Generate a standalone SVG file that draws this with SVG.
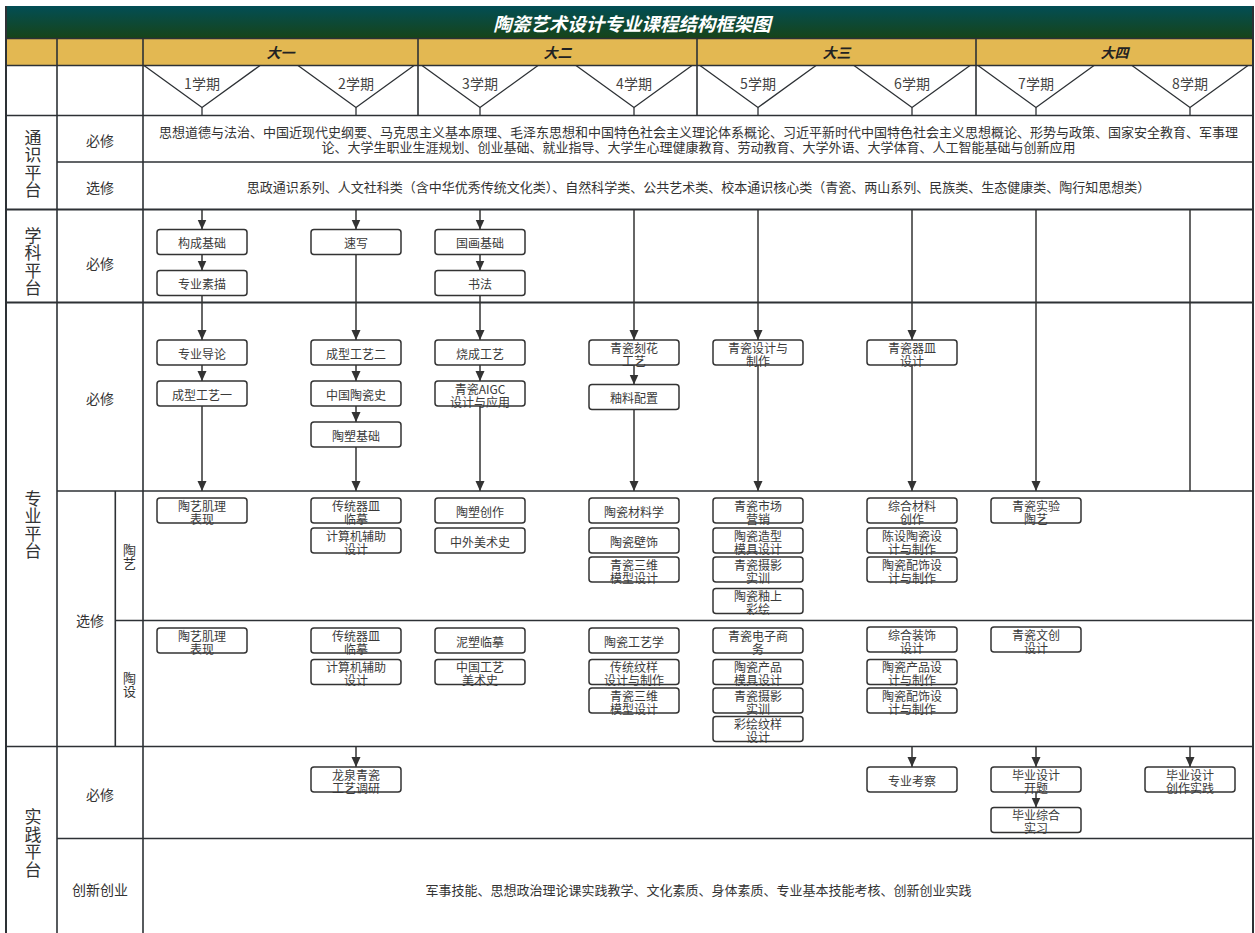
<svg xmlns="http://www.w3.org/2000/svg" width="1255" height="933" viewBox="0 0 1255 933">
<style>
text{font-family:"Noto Sans CJK SC","Noto Sans",sans-serif;fill:#333;text-anchor:middle;dominant-baseline:central}
.grid{stroke:#2d3135;stroke-width:1.6;fill:none}
.tri{stroke:#2d3135;stroke-width:1.3;fill:none}
.box{fill:#fff;stroke:#333;stroke-width:1.5}
.bt{font-size:12px;fill:#3a3a3a}
.sem{font-size:14px;fill:#444}
.yr{font-size:14px;font-weight:bold;font-style:italic;fill:#222}
.lab{font-size:14px;fill:#333}
.big{font-size:17px;fill:#333;writing-mode:vertical-rl;letter-spacing:0.5px}
.sub{font-size:13px;fill:#333;writing-mode:vertical-rl}
.desc{font-size:13px;fill:#333}
.title{font-size:18.5px;font-weight:bold;font-style:italic;fill:#fff}
.conn line{stroke:#333;stroke-width:1.5}
</style>
<defs>
<linearGradient id="tg" x1="0" y1="0" x2="0" y2="1">
<stop offset="0" stop-color="#024e55"/>
<stop offset="1" stop-color="#174418"/>
</linearGradient>
<marker id="arr" viewBox="0 0 10 10" refX="10" refY="5" markerWidth="10" markerHeight="10" markerUnits="userSpaceOnUse" orient="auto">
<path d="M0,0.5 L10,5 L0,9.5 z" fill="#333"/>
</marker>
</defs>
<rect x="0" y="0" width="1255" height="933" fill="#fff"/>
<g id="table">
<rect x="6" y="6" width="1247" height="32.5" fill="url(#tg)"/>
<rect x="6" y="38.5" width="1247" height="27" fill="#e3b852"/>
<g class="grid">
<line x1="6" y1="38.5" x2="1253" y2="38.5"/>
<line x1="6" y1="65.5" x2="1253" y2="65.5"/>
<line x1="6" y1="115.5" x2="1253" y2="115.5"/>
<line x1="57" y1="162" x2="1253" y2="162"/>
<line x1="6" y1="209.5" x2="1253" y2="209.5" stroke-width="2"/>
<line x1="6" y1="302.5" x2="1253" y2="302.5" stroke-width="2"/>
<line x1="57" y1="491" x2="1253" y2="491"/>
<line x1="115.3" y1="620.5" x2="1253" y2="620.5"/>
<line x1="6" y1="746.5" x2="1253" y2="746.5"/>
<line x1="57" y1="838.5" x2="1253" y2="838.5"/>
<line x1="6" y1="6" x2="6" y2="933" stroke-width="2"/>
<line x1="57" y1="38.5" x2="57" y2="933"/>
<line x1="143" y1="38.5" x2="143" y2="933"/>
<line x1="115.3" y1="491" x2="115.3" y2="746.5"/>
<line x1="418" y1="38.5" x2="418" y2="115.5"/>
<line x1="697" y1="38.5" x2="697" y2="115.5"/>
<line x1="976" y1="38.5" x2="976" y2="115.5"/>
<line x1="1253" y1="6" x2="1253" y2="933" stroke-width="2"/>
</g>
<g class="tri">
<polyline points="144,65.5 202,107.5 260,65.5"/><line x1="202" y1="107.5" x2="202" y2="115.5"/>
<polyline points="298,65.5 356,107.5 414,65.5"/><line x1="356" y1="107.5" x2="356" y2="115.5"/>
<polyline points="422,65.5 480,107.5 538,65.5"/><line x1="480" y1="107.5" x2="480" y2="115.5"/>
<polyline points="576,65.5 634,107.5 692,65.5"/><line x1="634" y1="107.5" x2="634" y2="115.5"/>
<polyline points="700,65.5 758,107.5 816,65.5"/><line x1="758" y1="107.5" x2="758" y2="115.5"/>
<polyline points="854,65.5 912,107.5 970,65.5"/><line x1="912" y1="107.5" x2="912" y2="115.5"/>
<polyline points="978,65.5 1036,107.5 1094,65.5"/><line x1="1036" y1="107.5" x2="1036" y2="115.5"/>
<polyline points="1132,65.5 1190,107.5 1248,65.5"/><line x1="1190" y1="107.5" x2="1190" y2="115.5"/>
</g>
</g>
<g id="labels">
<text class="title" x="632" y="22.5">陶瓷艺术设计专业课程结构框架图</text>
<text class="yr" x="280.5" y="52">大一</text>
<text class="yr" x="557.5" y="52">大二</text>
<text class="yr" x="836.5" y="52">大三</text>
<text class="yr" x="1114.5" y="52">大四</text>
<text class="sem" x="202" y="83">1学期</text>
<text class="sem" x="356" y="83">2学期</text>
<text class="sem" x="480" y="83">3学期</text>
<text class="sem" x="634" y="83">4学期</text>
<text class="sem" x="758" y="83">5学期</text>
<text class="sem" x="912" y="83">6学期</text>
<text class="sem" x="1036" y="83">7学期</text>
<text class="sem" x="1190" y="83">8学期</text>
<text class="big" x="33" y="164">通识平台</text>
<text class="big" x="33" y="262">学科平台</text>
<text class="big" x="33" y="525">专业平台</text>
<text class="big" x="33" y="843.5">实践平台</text>
<text class="lab" x="100" y="140">必修</text>
<text class="lab" x="100" y="187">选修</text>
<text class="lab" x="100" y="263">必修</text>
<text class="lab" x="100" y="398">必修</text>
<text class="lab" x="90" y="620">选修</text>
<text class="sub" x="129.4" y="556.5">陶艺</text>
<text class="sub" x="129.4" y="684.5">陶设</text>
<text class="lab" x="100" y="794">必修</text>
<text class="lab" x="100" y="889">创新创业</text>
<text class="desc" x="698.5" y="131">思想道德与法治、中国近现代史纲要、马克思主义基本原理、毛泽东思想和中国特色社会主义理论体系概论、习近平新时代中国特色社会主义思想概论、形势与政策、国家安全教育、军事理<tspan x="698.5" dy="15">论、大学生职业生涯规划、创业基础、就业指导、大学生心理健康教育、劳动教育、大学外语、大学体育、人工智能基础与创新应用</tspan></text>
<text class="desc" x="698.5" y="186.5">思政通识系列、人文社科类（含中华优秀传统文化类）、自然科学类、公共艺术类、校本通识核心类（青瓷、两山系列、民族类、生态健康类、陶行知思想类）</text>
<text class="desc" x="698.5" y="889">军事技能、思想政治理论课实践教学、文化素质、身体素质、专业基本技能考核、创新创业实践</text>
</g>
<g class="conn" id="connectors">
<line x1="202" y1="210" x2="202" y2="229.5" marker-end="url(#arr)"/>
<line x1="202" y1="254.5" x2="202" y2="270.5" marker-end="url(#arr)"/>
<line x1="202" y1="295.5" x2="202" y2="340" marker-end="url(#arr)"/>
<line x1="202" y1="365" x2="202" y2="381" marker-end="url(#arr)"/>
<line x1="202" y1="406" x2="202" y2="491" marker-end="url(#arr)"/>
<line x1="356" y1="210" x2="356" y2="229.5" marker-end="url(#arr)"/>
<line x1="356" y1="254.5" x2="356" y2="340" marker-end="url(#arr)"/>
<line x1="356" y1="365" x2="356" y2="381" marker-end="url(#arr)"/>
<line x1="356" y1="406" x2="356" y2="422" marker-end="url(#arr)"/>
<line x1="356" y1="447" x2="356" y2="491" marker-end="url(#arr)"/>
<line x1="480" y1="210" x2="480" y2="229.5" marker-end="url(#arr)"/>
<line x1="480" y1="254.5" x2="480" y2="270.5" marker-end="url(#arr)"/>
<line x1="480" y1="295.5" x2="480" y2="340" marker-end="url(#arr)"/>
<line x1="480" y1="365" x2="480" y2="381" marker-end="url(#arr)"/>
<line x1="480" y1="406" x2="480" y2="491" marker-end="url(#arr)"/>
<line x1="634" y1="210" x2="634" y2="340" marker-end="url(#arr)"/>
<line x1="634" y1="365" x2="634" y2="384.5" marker-end="url(#arr)"/>
<line x1="634" y1="409.5" x2="634" y2="491" marker-end="url(#arr)"/>
<line x1="758" y1="210" x2="758" y2="340" marker-end="url(#arr)"/>
<line x1="758" y1="365" x2="758" y2="491" marker-end="url(#arr)"/>
<line x1="912" y1="210" x2="912" y2="340" marker-end="url(#arr)"/>
<line x1="912" y1="365" x2="912" y2="491" marker-end="url(#arr)"/>
<line x1="1036" y1="210" x2="1036" y2="491" marker-end="url(#arr)"/>
<line x1="1190" y1="210" x2="1190" y2="491"/>
<line x1="356" y1="746.5" x2="356" y2="767" marker-end="url(#arr)"/>
<line x1="912" y1="746.5" x2="912" y2="767" marker-end="url(#arr)"/>
<line x1="1036" y1="746.5" x2="1036" y2="767" marker-end="url(#arr)"/>
<line x1="1036" y1="792" x2="1036" y2="807.5" marker-end="url(#arr)"/>
<line x1="1190" y1="746.5" x2="1190" y2="767" marker-end="url(#arr)"/>
</g>
<g id="nodes">
<g id="n-gcjc"><rect class="box" x="157" y="229.5" width="90" height="25" rx="3"/><text class="bt" x="202" y="242.5">构成基础</text></g>
<g id="n-zysm"><rect class="box" x="157" y="270.5" width="90" height="25" rx="3"/><text class="bt" x="202" y="283.5">专业素描</text></g>
<g id="n-sx"><rect class="box" x="311" y="229.5" width="90" height="25" rx="3"/><text class="bt" x="356" y="242.5">速写</text></g>
<g id="n-ghjc"><rect class="box" x="435" y="229.5" width="90" height="25" rx="3"/><text class="bt" x="480" y="242.5">国画基础</text></g>
<g id="n-sf"><rect class="box" x="435" y="270.5" width="90" height="25" rx="3"/><text class="bt" x="480" y="283.5">书法</text></g>
<g id="n-zydl"><rect class="box" x="157" y="340" width="90" height="25" rx="3"/><text class="bt" x="202" y="353">专业导论</text></g>
<g id="n-cxgy1"><rect class="box" x="157" y="381" width="90" height="25" rx="3"/><text class="bt" x="202" y="394">成型工艺一</text></g>
<g id="n-cxgy2"><rect class="box" x="311" y="340" width="90" height="25" rx="3"/><text class="bt" x="356" y="353">成型工艺二</text></g>
<g id="n-zgtcs"><rect class="box" x="311" y="381" width="90" height="25" rx="3"/><text class="bt" x="356" y="394">中国陶瓷史</text></g>
<g id="n-tsjc"><rect class="box" x="311" y="422" width="90" height="25" rx="3"/><text class="bt" x="356" y="435">陶塑基础</text></g>
<g id="n-scgy"><rect class="box" x="435" y="340" width="90" height="25" rx="3"/><text class="bt" x="480" y="353">烧成工艺</text></g>
<g id="n-aigc"><rect class="box" x="435" y="381" width="90" height="25" rx="3"/><text class="bt" x="480" y="388">青瓷AIGC<tspan x="480" dy="12.5">设计与应用</tspan></text></g>
<g id="n-khgy"><rect class="box" x="589" y="340" width="90" height="25" rx="3"/><text class="bt" x="634" y="347">青瓷刻花<tspan x="634" dy="12.5">工艺</tspan></text></g>
<g id="n-ylpz"><rect class="box" x="589" y="384.5" width="90" height="25" rx="3"/><text class="bt" x="634" y="397.5">釉料配置</text></g>
<g id="n-qcsj"><rect class="box" x="713" y="340" width="90" height="25" rx="3"/><text class="bt" x="758" y="347">青瓷设计与<tspan x="758" dy="12.5">制作</tspan></text></g>
<g id="n-qcqm"><rect class="box" x="867" y="340" width="90" height="25" rx="3"/><text class="bt" x="912" y="347">青瓷器皿<tspan x="912" dy="12.5">设计</tspan></text></g>

<g id="ty-1"><rect class="box" x="157" y="498" width="90" height="25" rx="3"/><text class="bt" x="202" y="505">陶艺肌理<tspan x="202" dy="12.5">表现</tspan></text></g>
<g id="ty-2"><rect class="box" x="311" y="498" width="90" height="25" rx="3"/><text class="bt" x="356" y="505">传统器皿<tspan x="356" dy="12.5">临摹</tspan></text></g>
<g id="ty-3"><rect class="box" x="311" y="528" width="90" height="25" rx="3"/><text class="bt" x="356" y="535">计算机辅助<tspan x="356" dy="12.5">设计</tspan></text></g>
<g id="ty-4"><rect class="box" x="435" y="498" width="90" height="25" rx="3"/><text class="bt" x="480" y="511">陶塑创作</text></g>
<g id="ty-5"><rect class="box" x="435" y="528" width="90" height="25" rx="3"/><text class="bt" x="480" y="541">中外美术史</text></g>
<g id="ty-6"><rect class="box" x="589" y="498" width="90" height="25" rx="3"/><text class="bt" x="634" y="511">陶瓷材料学</text></g>
<g id="ty-7"><rect class="box" x="589" y="528" width="90" height="25" rx="3"/><text class="bt" x="634" y="541">陶瓷壁饰</text></g>
<g id="ty-8"><rect class="box" x="589" y="557" width="90" height="25" rx="3"/><text class="bt" x="634" y="564">青瓷三维<tspan x="634" dy="12.5">模型设计</tspan></text></g>
<g id="ty-9"><rect class="box" x="713" y="498" width="90" height="25" rx="3"/><text class="bt" x="758" y="505">青瓷市场<tspan x="758" dy="12.5">营销</tspan></text></g>
<g id="ty-10"><rect class="box" x="713" y="528" width="90" height="25" rx="3"/><text class="bt" x="758" y="535">陶瓷造型<tspan x="758" dy="12.5">模具设计</tspan></text></g>
<g id="ty-11"><rect class="box" x="713" y="557" width="90" height="25" rx="3"/><text class="bt" x="758" y="564">青瓷摄影<tspan x="758" dy="12.5">实训</tspan></text></g>
<g id="ty-12"><rect class="box" x="713" y="588.5" width="90" height="25" rx="3"/><text class="bt" x="758" y="595.5">陶瓷釉上<tspan x="758" dy="12.5">彩绘</tspan></text></g>
<g id="ty-13"><rect class="box" x="867" y="498" width="90" height="25" rx="3"/><text class="bt" x="912" y="505">综合材料<tspan x="912" dy="12.5">创作</tspan></text></g>
<g id="ty-14"><rect class="box" x="867" y="528" width="90" height="25" rx="3"/><text class="bt" x="912" y="535">陈设陶瓷设<tspan x="912" dy="12.5">计与制作</tspan></text></g>
<g id="ty-15"><rect class="box" x="867" y="557" width="90" height="25" rx="3"/><text class="bt" x="912" y="564">陶瓷配饰设<tspan x="912" dy="12.5">计与制作</tspan></text></g>
<g id="ty-16"><rect class="box" x="991" y="498" width="90" height="25" rx="3"/><text class="bt" x="1036" y="505">青瓷实验<tspan x="1036" dy="12.5">陶艺</tspan></text></g>

<g id="ts-1"><rect class="box" x="157" y="628" width="90" height="25" rx="3"/><text class="bt" x="202" y="635">陶艺肌理<tspan x="202" dy="12.5">表现</tspan></text></g>
<g id="ts-2"><rect class="box" x="311" y="628" width="90" height="25" rx="3"/><text class="bt" x="356" y="635">传统器皿<tspan x="356" dy="12.5">临摹</tspan></text></g>
<g id="ts-3"><rect class="box" x="311" y="659.5" width="90" height="25" rx="3"/><text class="bt" x="356" y="666.5">计算机辅助<tspan x="356" dy="12.5">设计</tspan></text></g>
<g id="ts-4"><rect class="box" x="435" y="628" width="90" height="25" rx="3"/><text class="bt" x="480" y="641">泥塑临摹</text></g>
<g id="ts-5"><rect class="box" x="435" y="659.5" width="90" height="25" rx="3"/><text class="bt" x="480" y="666.5">中国工艺<tspan x="480" dy="12.5">美术史</tspan></text></g>
<g id="ts-6"><rect class="box" x="589" y="628" width="90" height="25" rx="3"/><text class="bt" x="634" y="641">陶瓷工艺学</text></g>
<g id="ts-7"><rect class="box" x="589" y="659.5" width="90" height="25" rx="3"/><text class="bt" x="634" y="666.5">传统纹样<tspan x="634" dy="12.5">设计与制作</tspan></text></g>
<g id="ts-8"><rect class="box" x="589" y="688" width="90" height="25" rx="3"/><text class="bt" x="634" y="695">青瓷三维<tspan x="634" dy="12.5">模型设计</tspan></text></g>
<g id="ts-9"><rect class="box" x="713" y="628" width="90" height="25" rx="3"/><text class="bt" x="758" y="635">青瓷电子商<tspan x="758" dy="12.5">务</tspan></text></g>
<g id="ts-10"><rect class="box" x="713" y="659.5" width="90" height="25" rx="3"/><text class="bt" x="758" y="666.5">陶瓷产品<tspan x="758" dy="12.5">模具设计</tspan></text></g>
<g id="ts-11"><rect class="box" x="713" y="688" width="90" height="25" rx="3"/><text class="bt" x="758" y="695">青瓷摄影<tspan x="758" dy="12.5">实训</tspan></text></g>
<g id="ts-12"><rect class="box" x="713" y="716.5" width="90" height="25" rx="3"/><text class="bt" x="758" y="723.5">彩绘纹样<tspan x="758" dy="12.5">设计</tspan></text></g>
<g id="ts-13"><rect class="box" x="867" y="627" width="90" height="25" rx="3"/><text class="bt" x="912" y="634">综合装饰<tspan x="912" dy="12.5">设计</tspan></text></g>
<g id="ts-14"><rect class="box" x="867" y="659.5" width="90" height="25" rx="3"/><text class="bt" x="912" y="666.5">陶瓷产品设<tspan x="912" dy="12.5">计与制作</tspan></text></g>
<g id="ts-15"><rect class="box" x="867" y="688" width="90" height="25" rx="3"/><text class="bt" x="912" y="695">陶瓷配饰设<tspan x="912" dy="12.5">计与制作</tspan></text></g>
<g id="ts-16"><rect class="box" x="991" y="627" width="90" height="25" rx="3"/><text class="bt" x="1036" y="634">青瓷文创<tspan x="1036" dy="12.5">设计</tspan></text></g>

<g id="sj-1"><rect class="box" x="311" y="767" width="90" height="25" rx="3"/><text class="bt" x="356" y="774">龙泉青瓷<tspan x="356" dy="12.5">工艺调研</tspan></text></g>
<g id="sj-2"><rect class="box" x="867" y="767" width="90" height="25" rx="3"/><text class="bt" x="912" y="780">专业考察</text></g>
<g id="sj-3"><rect class="box" x="991" y="767" width="90" height="25" rx="3"/><text class="bt" x="1036" y="774">毕业设计<tspan x="1036" dy="12.5">开题</tspan></text></g>
<g id="sj-4"><rect class="box" x="991" y="807.5" width="90" height="25" rx="3"/><text class="bt" x="1036" y="814.5">毕业综合<tspan x="1036" dy="12.5">实习</tspan></text></g>
<g id="sj-5"><rect class="box" x="1145" y="767" width="90" height="25" rx="3"/><text class="bt" x="1190" y="774">毕业设计<tspan x="1190" dy="12.5">创作实践</tspan></text></g>
</g>
</svg>
